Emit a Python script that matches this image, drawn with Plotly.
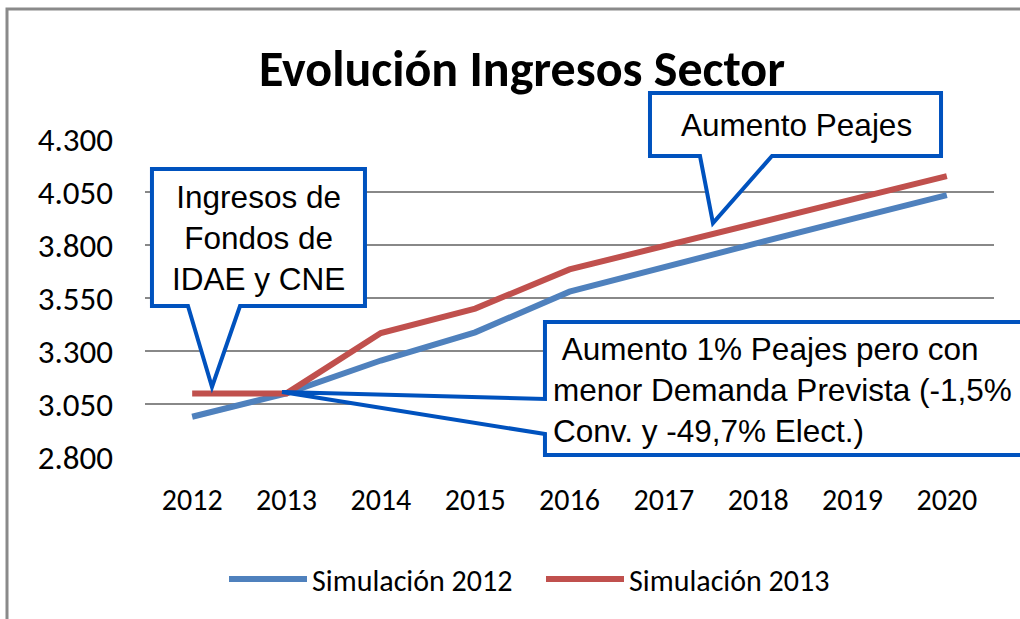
import plotly.graph_objects as go

years = ["2012", "2013", "2014", "2015", "2016", "2017", "2018", "2019", "2020"]
sim_2012 = [2990, 3100, 3255, 3388, 3580, 3697, 3810, 3923, 4035]
sim_2013 = [3100, 3100, 3385, 3500, 3685, 3793, 3904, 4015, 4125]
y_ticks = [2800, 3050, 3300, 3550, 3800, 4050, 4300]

W, H = 1020, 619
L, R, T, B = 145, 994, 139, 457

def px(x):
    return (x - L) / (R - L)

def py(y):
    return (B - y) / (B - T)

def path(points, close=True):
    s = "M " + " L ".join(f"{px(x):.4f},{py(y):.4f}" for x, y in points)
    return s + (" Z" if close else "")

CAL = "Carlito, Lato, 'Open Sans', sans-serif"
ARIAL = "'Liberation Sans', Arial, sans-serif"
BLUE_BORDER = "#0052BE"

fig = go.Figure()
fig.add_trace(go.Scatter(x=years, y=sim_2012, mode="lines", name="Simulación 2012",
                         line=dict(color="#4F81BD", width=6)))
fig.add_trace(go.Scatter(x=years, y=sim_2013, mode="lines", name="Simulación 2013",
                         line=dict(color="#C0504D", width=6)))

shapes = [
    dict(type="rect", xref="paper", yref="paper", x0=px(7), x1=px(1040), y0=py(9), y1=py(650),
         line=dict(color="#8A8A8A", width=3), layer="below"),
    dict(type="path", xref="paper", yref="paper",
         path=path([(152, 169), (365, 169), (365, 306), (240, 306), (212, 387), (188, 306), (152, 306)]),
         fillcolor="white", line=dict(color=BLUE_BORDER, width=4), layer="above"),
    dict(type="path", xref="paper", yref="paper",
         path=path([(650, 93), (941, 93), (941, 156), (772, 156), (713, 223), (700, 156), (650, 156)]),
         fillcolor="white", line=dict(color=BLUE_BORDER, width=4), layer="above"),
    dict(type="path", xref="paper", yref="paper",
         path=path([(545, 399), (545, 322), (1035, 322), (1035, 455), (545, 455), (545, 434), (282, 392)]),
         fillcolor="white", line=dict(color=BLUE_BORDER, width=4), layer="above"),
]

annotations = [
    dict(xref="paper", yref="paper", x=px(258), y=py(238), text="Ingresos de<br>Fondos de<br>IDAE y CNE",
         showarrow=False, font=dict(family=ARIAL, size=31.5, color="black"), align="center",
         xanchor="center", yanchor="middle"),
    dict(xref="paper", yref="paper", x=px(796), y=py(125), text="Aumento Peajes",
         showarrow=False, font=dict(family=ARIAL, size=31.5, color="black"),
         xanchor="center", yanchor="middle"),
    dict(xref="paper", yref="paper", x=px(551), y=py(390),
         text="\u00a0Aumento 1% Peajes pero con<br>menor Demanda Prevista (-1,5%<br>Conv. y -49,7% Elect.)",
         showarrow=False, font=dict(family=ARIAL, size=31.5, color="black"), align="left",
         xanchor="left", yanchor="middle"),
]

fig.update_layout(
    width=W, height=H,
    margin=dict(l=L, r=W - R, t=T, b=H - B),
    paper_bgcolor="white", plot_bgcolor="white",
    separators=",.",
    title=dict(text="<b>Evolución Ingresos Sector</b>", x=522 / W, xref="container",
               y=1 - 68 / H, yref="container", xanchor="center", yanchor="middle",
               font=dict(family=CAL, size=50, color="black")),
    xaxis=dict(type="category", range=[-0.5, 8.5], showgrid=False, showline=False, zeroline=False,
               ticks="", ticklabelstandoff=22,
               tickfont=dict(family=CAL, size=30, color="black")),
    yaxis=dict(range=[2800, 4300], tickvals=y_ticks, tickformat=",.0f",
               showgrid=True, gridcolor="#888888", gridwidth=2, showline=False, zeroline=False,
               ticks="", ticklabelstandoff=31,
               tickfont=dict(family=CAL, size=33, color="black")),
    showlegend=True,
    legend=dict(orientation="h", xref="paper", yref="paper", x=px(224), y=py(579),
                xanchor="left", yanchor="middle", itemwidth=78, entrywidth=224,
                font=dict(family=CAL, size=30, color="black")),
    shapes=shapes,
    annotations=annotations,
)

fig.write_html("out.html", config={"displayModeBar": False},
               post_script="document.body.style.margin='0';")
